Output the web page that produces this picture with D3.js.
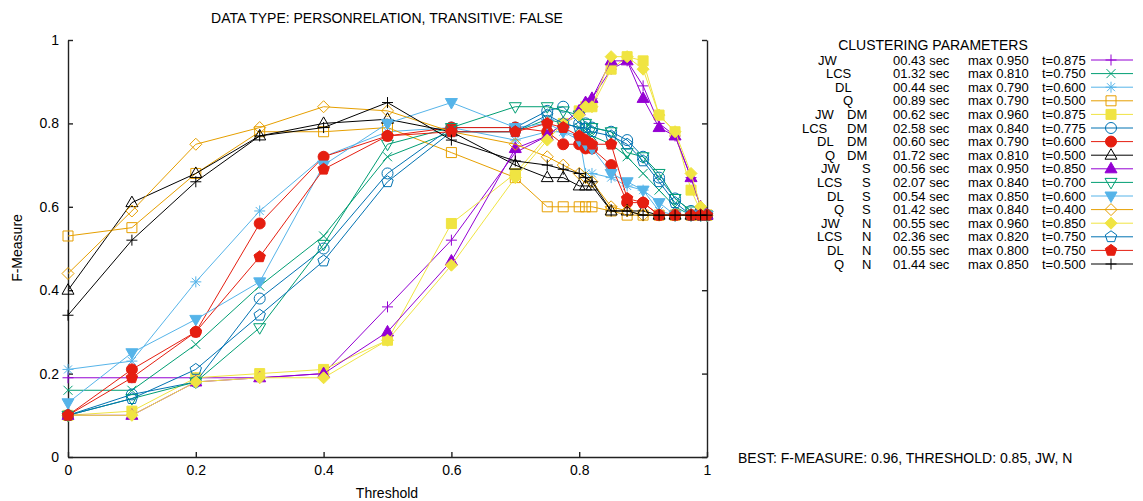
<!DOCTYPE html>
<html lang="en">
<head>
<meta charset="UTF-8"/>
<title>F-Measure by threshold</title>
<script src="https://d3js.org/d3.v7.min.js"></script>
<style>
	body { margin: 0; background: #fff; }
	svg text { font-family: "Liberation Sans", Arial, sans-serif; font-size: 14px; fill: #000; }
	svg text.leg { font-size: 13px; }
</style>
</head>
<body>
<script>

	// thresholds on the x axis
	var thresholds = [0, 0.1, 0.2, 0.3, 0.4, 0.5, 0.6, 0.7, 0.75, 0.775, 0.8, 0.81, 0.82, 0.85, 0.875, 0.9, 0.925, 0.95, 0.975, 0.99, 1];

	// F-measure per clustering setup
	var jw    = [0.19,0.19,0.19,0.19,0.20,0.36,0.52,0.73,0.77,0.80,0.82,0.84,0.86,0.93,0.95,0.89,0.80,0.77,0.67,0.60,0.58];
	var lcs   = [0.16,0.16,0.27,0.41,0.53,0.72,0.78,0.78,0.81,0.80,0.79,0.78,0.77,0.75,0.72,0.68,0.64,0.60,0.58,0.58,0.58];
	var dl    = [0.21,0.23,0.42,0.59,0.72,0.78,0.79,0.76,0.78,0.78,0.77,0.68,0.68,0.67,0.65,0.64,0.59,0.58,0.58,0.58,0.58];
	var q     = [0.53,0.55,0.68,0.78,0.78,0.79,0.73,0.67,0.60,0.60,0.60,0.60,0.60,0.59,0.58,0.58,0.58,0.58,0.58,0.58,0.58];
	var jwDm  = [0.10,0.11,0.19,0.20,0.21,0.28,0.56,0.68,0.77,0.80,0.83,0.84,0.84,0.93,0.96,0.95,0.82,0.78,0.64,0.59,0.58];
	var lcsDm = [0.10,0.15,0.18,0.38,0.50,0.68,0.79,0.79,0.83,0.84,0.80,0.80,0.79,0.78,0.76,0.72,0.67,0.62,0.59,0.58,0.58];
	var dlDm  = [0.10,0.21,0.30,0.56,0.72,0.77,0.79,0.79,0.78,0.75,0.75,0.74,0.74,0.70,0.61,0.61,0.58,0.58,0.58,0.58,0.58];
	var qDm   = [0.40,0.61,0.68,0.77,0.80,0.81,0.78,0.70,0.67,0.67,0.65,0.65,0.65,0.59,0.59,0.59,0.58,0.58,0.58,0.58,0.58];
	var jwS   = [0.10,0.10,0.18,0.19,0.20,0.30,0.47,0.74,0.77,0.80,0.83,0.85,0.86,0.95,0.95,0.86,0.79,0.77,0.67,0.60,0.58];
	var lcsS  = [0.10,0.14,0.18,0.31,0.51,0.75,0.79,0.84,0.84,0.83,0.82,0.80,0.79,0.78,0.73,0.72,0.68,0.62,0.59,0.58,0.58];
	var dlS   = [0.13,0.25,0.33,0.42,0.70,0.80,0.85,0.79,0.80,0.78,0.76,0.75,0.74,0.68,0.66,0.64,0.61,0.58,0.58,0.58,0.58];
	var qS    = [0.44,0.59,0.75,0.79,0.84,0.83,0.78,0.75,0.72,0.70,0.68,0.67,0.66,0.60,0.59,0.58,0.58,0.58,0.58,0.58,0.58];
	var jwN   = [0.10,0.10,0.18,0.19,0.19,0.28,0.46,0.67,0.76,0.80,0.82,0.84,0.84,0.96,0.96,0.93,0.82,0.78,0.68,0.60,0.58];
	var lcsN  = [0.10,0.14,0.21,0.34,0.47,0.66,0.78,0.78,0.82,0.80,0.79,0.79,0.78,0.77,0.75,0.71,0.66,0.61,0.58,0.58,0.58];
	var dlN   = [0.10,0.19,0.30,0.48,0.69,0.77,0.78,0.78,0.80,0.79,0.77,0.76,0.75,0.75,0.62,0.61,0.58,0.58,0.58,0.58,0.58];
	var qN    = [0.34,0.52,0.66,0.77,0.79,0.85,0.76,0.71,0.70,0.69,0.68,0.67,0.66,0.59,0.59,0.58,0.58,0.58,0.58,0.58,0.58];

	// legend texts
	var metrics = ["JW","LCS","DL","Q","JW","LCS","DL","Q","JW","LCS","DL","Q","JW","LCS","DL","Q"];
	var modes   = ["","","","","DM","DM","DM","DM","S","S","S","S","N","N","N","N"];
	var times   = ["00.43","01.32","00.44","00.89","00.62","02.58","00.60","01.72","00.56","02.07","00.54","01.42","00.55","02.36","00.55","01.44"];
	var maxes   = ["0.950","0.810","0.790","0.790","0.960","0.840","0.790","0.810","0.950","0.840","0.850","0.840","0.960","0.820","0.800","0.850"];
	var bestT   = ["0.875","0.750","0.600","0.500","0.875","0.775","0.600","0.500","0.850","0.700","0.600","0.400","0.850","0.750","0.750","0.500"];
	var yTicks  = [0, 0.2, 0.4, 0.6, 0.8, 1];
	var xTicks  = [0, 0.2, 0.4, 0.6, 0.8, 1];

	var allValues = [jw, lcs, dl, q, jwDm, lcsDm, dlDm, qDm, jwS, lcsS, dlS, qS, jwN, lcsN, dlN, qN];

	// gnuplot style look
	var colors = ["#9400d3","#009e73","#56b4e9","#e69f00","#f0e442","#0072b2","#e51e10","#000000",
	              "#9400d3","#009e73","#56b4e9","#e69f00","#f0e442","#0072b2","#e51e10","#000000"];
	var shapes = ["plus","cross","star","square","squareF","circle","circleF","triUp",
	              "triUpF","triDown","triDownF","diamond","diamondF","pentagon","pentagonF","plus"];

	var w = 1143, h = 501;
	var plotLeft = 68, plotRight = 707, plotTop = 40, plotBottom = 457;

	var xScale = d3.scaleLinear().domain([0, 1]).range([plotLeft, plotRight]);
	var yScale = d3.scaleLinear().domain([0, 1]).range([plotBottom, plotTop]);

	var svg = d3.select("body").append("svg")
		.attr("width", w)
		.attr("height", h);

	function shapePath(type) {
		var base = type.replace("F", "");
		var r;
		switch (base) {
			case "plus":  r = 5.5; return "M" + -r + ",0H" + r + "M0," + -r + "V" + r;
			case "cross": r = 4.5; return "M" + -r + "," + -r + "L" + r + "," + r + "M" + -r + "," + r + "L" + r + "," + -r;
			case "star":
				r = 5.5; var c = 4;
				return "M" + -r + ",0H" + r + "M0," + -r + "V" + r +
					"M" + -c + "," + -c + "L" + c + "," + c + "M" + -c + "," + c + "L" + c + "," + -c;
			case "square": r = 5; return "M" + -r + "," + -r + "H" + r + "V" + r + "H" + -r + "Z";
			case "circle": r = 5.5; return "M" + r + ",0A" + r + "," + r + " 0 1,1 " + -r + ",0A" + r + "," + r + " 0 1,1 " + r + ",0Z";
			case "triUp": return "M0,-6.5L6,4L-6,4Z";
			case "triDown": return "M0,6.5L6,-4L-6,-4Z";
			case "diamond": r = 6; return "M0," + -r + "L" + r + ",0L0," + r + "L" + -r + ",0Z";
			case "pentagon":
				r = 6;
				var pts = d3.range(5).map(function(k){
					var a = -Math.PI / 2 + k * 2 * Math.PI / 5;
					return [r * Math.cos(a), r * Math.sin(a)];
				});
				return "M" + pts.join("L") + "Z";
		}
	}

	function drawMark(g, type, color, px, py) {
		var filled = type.slice(-1) === "F";
		g.append("path")
			.attr("d", shapePath(type))
			.attr("transform", "translate(" + px + "," + py + ")")
			.attr("fill", filled ? color : "none")
			.attr("stroke", color)
			.attr("stroke-width", 1);
	}

	var line = d3.line()
		.x(function(d, i){ return xScale(thresholds[i]); })
		.y(function(d){ return yScale(d); });

	// axes: left, bottom, right mirror
	var xAxis = d3.axisBottom(xScale).tickValues(xTicks).tickSizeInner(-5).tickSizeOuter(0).tickPadding(8)
		.tickFormat(function(d){ return String(+d.toFixed(1)); });
	var yAxis = d3.axisLeft(yScale).tickValues(yTicks).tickSizeInner(-5).tickSizeOuter(0).tickPadding(9)
		.tickFormat(function(d){ return String(+d.toFixed(1)); });
	var yAxisR = d3.axisRight(yScale).tickValues(yTicks).tickSizeInner(-5).tickSizeOuter(0).tickFormat("");

	svg.append("g").attr("class", "axis").attr("transform", "translate(0," + plotBottom + ")").call(xAxis);
	svg.append("g").attr("class", "axis").attr("transform", "translate(" + plotLeft + ",0)").call(yAxis);
	svg.append("g").attr("class", "axis").attr("transform", "translate(" + plotRight + ",0)").call(yAxisR);
	svg.selectAll(".axis path, .axis line").attr("stroke", "#222").attr("stroke-width", 1.4);
	svg.selectAll(".axis text").style("font-size", "14px").attr("fill", "#000");

	// series
	allValues.forEach(function(vals, s) {
		var g = svg.append("g");
		g.append("path")
			.attr("d", line(vals))
			.attr("fill", "none")
			.attr("stroke", colors[s])
			.attr("stroke-width", 1);
		vals.forEach(function(v, i) {
			drawMark(g, shapes[s], colors[s], xScale(thresholds[i]), yScale(v));
		});
	});

	// titles
	svg.append("text").attr("x", 387).attr("y", 23).attr("text-anchor", "middle")
		.text("DATA TYPE: PERSONRELATION, TRANSITIVE: FALSE");
	svg.append("text").attr("x", 387).attr("y", 498).attr("text-anchor", "middle").text("Threshold");
	svg.append("text").attr("transform", "translate(22,248) rotate(-90)").attr("text-anchor", "middle").text("F-Measure");
	svg.append("text").attr("x", 738).attr("y", 463)
		.text("BEST: F-MEASURE: 0.96, THRESHOLD: 0.85, JW, N");

	// legend
	var legTop = 64.5, legStep = 13.6;
	var metricX = { "": { JW: 818, LCS: 826, DL: 835, Q: 843 },
	                DM: { JW: 815, LCS: 802, DL: 817, Q: 825 },
	                S:  { JW: 821, LCS: 817, DL: 827, Q: 834 },
	                N:  { JW: 821, LCS: 817, DL: 827, Q: 834 } };
	svg.append("text").attr("x", 933).attr("y", 50).attr("text-anchor", "middle").text("CLUSTERING PARAMETERS");

	metrics.forEach(function(m, i) {
		var yy = legTop + i * legStep;
		svg.append("text").attr("class", "leg").attr("x", metricX[modes[i]][m]).attr("y", yy).text(m);
		if (modes[i]) {
			svg.append("text").attr("class", "leg").attr("x", modes[i] === "DM" ? 847 : 862).attr("y", yy).text(modes[i]);
		}
		svg.append("text").attr("class", "leg").attr("x", 893).attr("y", yy).text(times[i] + " sec");
		svg.append("text").attr("class", "leg").attr("x", 968).attr("y", yy).text("max " + maxes[i]);
		svg.append("text").attr("class", "leg").attr("x", 1042).attr("y", yy).text("t=" + bestT[i]);
		var g = svg.append("g");
		g.append("line")
			.attr("x1", 1091).attr("x2", 1133)
			.attr("y1", yy - 4.5).attr("y2", yy - 4.5)
			.attr("stroke", colors[i]).attr("stroke-width", 1);
		drawMark(g, shapes[i], colors[i], 1111, yy - 4.5);
	});

</script>
</body>
</html>
